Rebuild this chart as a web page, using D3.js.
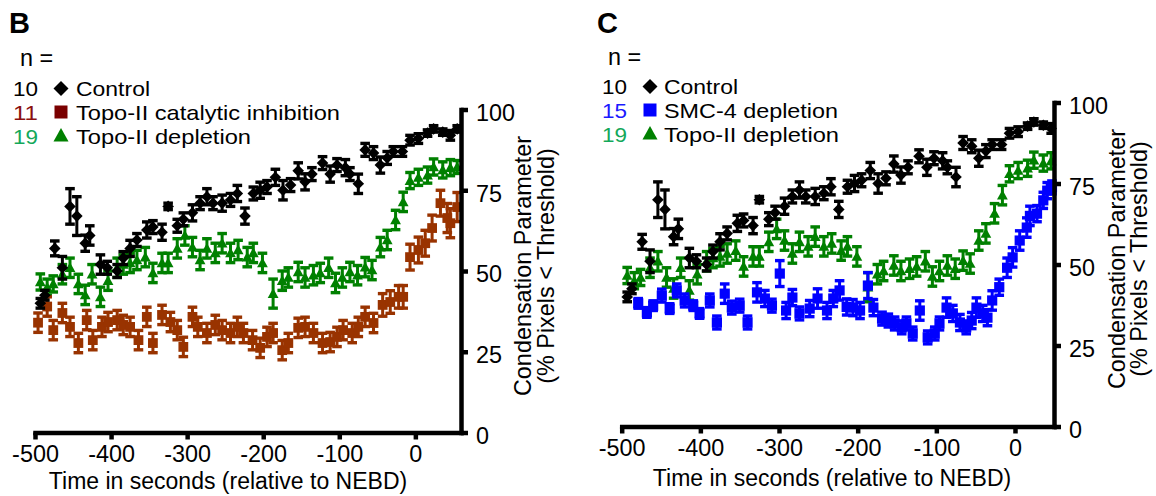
<!DOCTYPE html>
<html><head><meta charset="utf-8">
<script src="https://cdn.jsdelivr.net/npm/d3@7"></script>
<style>
body{margin:0;background:#fff}
svg{display:block}
text{font-family:"Liberation Sans",Arial,Helvetica,sans-serif;fill:#000}
</style>
</head><body>
<svg id="c" width="1156" height="496"></svg>
<script>
// ---------- DATA ----------
const xTicks = [-500, -400, -300, -200, -100, 0];
const yTicks = [0, 25, 50, 75, 100];

const controlTimes = [-493,-487,-474,-464,-454,-445,-434,-428,-414,-405,-392,-384,-375,-366,-353,-345,-333,-325,-313,-305,-293,-283,-274,-266,-254,-243,-234,-224,-213,-204,-195,-184,-174,-164,-154,-145,-136,-122,-112,-103,-92,-86,-75,-66,-55,-46,-37,-29,-17,-7,4,16,24,36,46,55];
const controlValues = [40,42.5,57,51,70,67,58.6,61,52,51,50,54,57,59.6,62.7,63.6,62,70,64,66,68,71,73,71,71,72,74,67,74,75,76,79,75,76.6,81,77.6,80,83.4,80,82.8,82,80,77,87.5,86.5,82.8,85,87,87,90.5,91,92.7,94,93,92,94];
const controlErr = [1.5,1.5,2.3,3.5,5.5,6,2.5,3,3,2,2,2,2.5,2,2.5,2,2.5,1,2,2,2.5,2,2.5,2,2.5,2,2.5,2.5,2,2.5,2,2.5,3,2,2.5,2.5,2,2,2.5,2,2.5,2,3,2,2,2.5,2,1.5,1.5,1.5,1.5,1,1,1,1.5,1];

const topoDepTimes = [-493,-484,-476,-464,-454,-443,-434,-425,-414,-404,-392,-384,-375,-366,-355,-345,-333,-325,-313,-303,-293,-283,-274,-263,-254,-243,-233,-221,-213,-201,-187,-175,-167,-154,-145,-134,-125,-114,-105,-96,-86,-76,-66,-57,-46,-37,-26,-16,-7,4,16,24,36,46,55];
const topoDepValues = [46.6,45,46,49,51,46,42.6,49,42,47,51,52,52.5,53.4,54.3,49.4,52.5,52.5,57,61,57.4,53.4,57,55.6,58.6,55.6,56.5,54.3,55.6,52.5,43,47,48,49.7,48,48.7,49.4,51,46.3,48,49.7,48.7,51.2,50.3,57.4,59.6,65.8,71.4,78,79,79.7,82.2,81.3,82,82.2];
const topoDepErr = [2.5,2.5,2.5,3,3,3,3,3,3,3,3,3,3,3,3,3,3,3,3,3,3,3,3,3,3,3,3,3,3,3,4.5,3,3,3,3,3,3,3,3,3,3,3,3,3,3,3,3,3,2.5,2.5,2.5,2.5,2.5,2.5,2];

const topoCatTimes = [-496,-484,-476,-464,-454,-443,-432,-424,-412,-404,-392,-384,-375,-364,-353,-345,-333,-322,-313,-305,-293,-286,-274,-263,-254,-243,-234,-226,-214,-204,-195,-187,-175,-167,-154,-145,-134,-122,-112,-103,-95,-83,-75,-66,-55,-43,-33,-22,-16,-7,4,13,22,33,42,46,55];
const topoCatValues = [34,39,31.7,37,32.7,27.7,34.8,28.6,32.7,34.2,34.8,33.3,32.7,28.6,35.8,27.7,36.4,34.2,31.7,26.5,35.8,32.7,30.8,33.3,31.7,30.8,32.7,30.8,28.6,26.2,29.6,30.8,25.5,27.7,32.4,32.7,30.8,27.7,28,29.6,31.7,30.8,32.7,35.8,33.9,39.5,40.4,42,42,54.3,56.5,58.6,63.3,71,66.4,64.8,69.8];
const topoCatErr = [3,3,3,3,3,3,3,3,3,3,3,3,3,3,3,3,3,3,3,3,3,3,3,3,3,3,3,3,3,3,3,3,3,3,3,3,3,3,3,3,3,3,3,3,3,3.5,3.5,3.5,3.5,4,4,4,4,4,4.5,4.5,4.5];

const smcTimes = [-479,-468,-460,-449,-439,-430,-420,-409,-401,-388,-379,-369,-360,-350,-340,-328,-318,-309,-299,-291,-283,-274,-261,-251,-239,-231,-223,-214,-206,-197,-187,-180,-169,-161,-153,-144,-138,-130,-121,-111,-102,-96,-87,-79,-70,-62,-55,-49,-41,-35,-29,-20,-10,-3,6,15,19,28,36,41,47];
const smcValues = [38,35.2,37.3,40.4,36.4,42,38.9,37.3,34.9,38.9,32.1,41,36.7,37.3,32.1,41.4,39.5,37.3,47.2,35.8,39.8,34.9,36.4,39.5,35.8,39.5,42,36.9,36.7,35.8,43.5,36.7,33.3,32.7,31.8,30.6,31.8,28.7,35.8,27.5,28.7,31.8,36.7,34.9,32.1,30.6,32.7,36.7,34.9,33.6,38.9,43,49,52.2,57.4,61.4,65,65.7,69.8,72.8,73.8];
const smcErr = [1.5,1.5,1.5,2,1.5,2,2,1.5,1.5,2,2,3,2,2,2,3,2.5,2,4,2.5,2.5,2,2.5,3,2.5,2.5,3,2.5,2.5,2.5,4,2.5,2,2,2,2,2,2,3,2,2,2,3,2.5,2.5,2,2.5,3,2.5,2.5,3,2.5,3,3,3,3,3,2.5,2.5,2.5,2];

// ---------- DRAW ----------
const svg = d3.select("#c");
const FS = 23.4;
const LFS = 21;

function markerPath(shape, s){
  if(shape === "diamond") return `M0,${-s}L${s},0L0,${s}L${-s},0Z`;
  if(shape === "square") return `M${-s},${-s}H${s}V${s}H${-s}Z`;
  return `M0,${-s}L${s},${s*0.8}L${-s},${s*0.8}Z`;
}

const S = {
  control: {t: controlTimes, v: controlValues, e: controlErr, color: "#000000", shape: "diamond", size: 5.8},
  topoCat: {t: topoCatTimes, v: topoCatValues, e: topoCatErr, color: "#993300", shape: "square", size: 4.9},
  topoDep: {t: topoDepTimes, v: topoDepValues, e: topoDepErr, color: "#008000", shape: "triangle", size: 5.4},
  smc:     {t: smcTimes, v: smcValues, e: smcErr, color: "#0000ff", shape: "square", size: 5.1}
};

const panels = [
  {letter: "B", lx: 9, nx: 20, numX: 13, mkX: 61, labX: 76, rowY: [96.4, 120, 143.6], nY: 66,
   xr: [35, 461], xd: [-500, 60], yr: [432.5, 109.5],
   draw: ["topoDep", "topoCat", "control"],
   legend: [
     {n: "10", nc: "#000000", mc: "#000000", shape: "diamond", label: "Control", w: 74},
     {n: "11", nc: "#8b1010", mc: "#7a0000", shape: "square", label: "Topo-II catalytic inhibition", w: 264},
     {n: "19", nc: "#14a85a", mc: "#008000", shape: "triangle", label: "Topo-II depletion", w: 175}],
   xTitleX: 228, xTitleY: 488.5, yT1: 531, yT2: 554, yTc: 266},
  {letter: "C", lx: 597, nx: 608, numX: 602, mkX: 650, labX: 664, rowY: [94.4, 118, 141.6], nY: 65,
   xr: [621.7, 1054], xd: [-500, 49.6], yr: [426.5, 102.5],
   draw: ["topoDep", "smc", "control"],
   legend: [
     {n: "10", nc: "#000000", mc: "#000000", shape: "diamond", label: "Control", w: 74},
     {n: "15", nc: "#1a1aff", mc: "#0000ff", shape: "square", label: "SMC-4 depletion", w: 174},
     {n: "19", nc: "#14a85a", mc: "#008000", shape: "triangle", label: "Topo-II depletion", w: 175}],
   xTitleX: 832, xTitleY: 485.5, yT1: 1125, yT2: 1147, yTc: 259}
];

panels.forEach(p => {
  const g = svg.append("g");
  const x = d3.scaleLinear().domain(p.xd).range(p.xr);
  const y = d3.scaleLinear().domain([0, 100]).range(p.yr);

  // data
  p.draw.forEach(key => {
    const s = S[key];
    const pts = s.t.map((t, i) => ({t, v: s.v[i], e: s.e[i]})).filter(d => d.t <= p.xd[1] - 2);
    const sg = g.append("g");
    const pg = sg.selectAll("g").data(pts).join("g")
      .attr("transform", d => `translate(${x(d.t)},0)`);
    pg.append("line").attr("x1", 0).attr("x2", 0)
      .attr("y1", d => y(d.v - d.e)).attr("y2", d => y(d.v + d.e))
      .attr("stroke", s.color).attr("stroke-width", 3);
    pg.append("line").attr("x1", -4.8).attr("x2", 4.8)
      .attr("y1", d => y(d.v + d.e)).attr("y2", d => y(d.v + d.e))
      .attr("stroke", s.color).attr("stroke-width", 3.4);
    pg.append("line").attr("x1", -4.8).attr("x2", 4.8)
      .attr("y1", d => y(d.v - d.e)).attr("y2", d => y(d.v - d.e))
      .attr("stroke", s.color).attr("stroke-width", 3.4);
    pg.append("path").attr("d", markerPath(s.shape, s.size))
      .attr("transform", d => `translate(0,${y(d.v)})`)
      .attr("fill", s.color);
  });

  // axes
  const xa = g.append("g").attr("transform", `translate(0,${p.yr[0]})`)
    .call(d3.axisBottom(x).tickValues(xTicks).tickSize(7).tickSizeOuter(0).tickPadding(6).tickFormat(d3.format("d")));
  const ya = g.append("g").attr("transform", `translate(${p.xr[1]},0)`)
    .call(d3.axisRight(y).tickValues(yTicks).tickSize(7).tickSizeOuter(0).tickPadding(8));
  [xa, ya].forEach(a => {
    a.select(".domain").attr("stroke", "#000").attr("stroke-width", 4.5).attr("stroke-linecap", "square");
    a.selectAll(".tick line").attr("stroke", "#000").attr("stroke-width", 4.5);
    a.selectAll(".tick text").attr("font-size", FS).attr("font-family", '"Liberation Sans",Arial,sans-serif').attr("fill", "#000");
  });
  ya.selectAll(".tick text").attr("dy", "0.46em");
  xa.selectAll(".tick text").text(d => d3.format("d")(d).replace("−", "-"));

  g.append("text").attr("x", p.xTitleX).attr("y", p.xTitleY).attr("text-anchor", "middle")
    .attr("font-size", 23).text("Time in seconds (relative to NEBD)");
  g.append("text").attr("transform", `translate(${p.yT1},${p.yTc}) rotate(-90)`).attr("text-anchor", "middle")
    .attr("font-size", FS).text("Condensation Parameter");
  g.append("text").attr("transform", `translate(${p.yT2},${p.yTc}) rotate(-90)`).attr("text-anchor", "middle")
    .attr("font-size", FS).text("(% Pixels < Threshold)");

  // legend
  g.append("text").attr("x", p.lx).attr("y", 33).attr("font-size", 29).attr("font-weight", "bold").text(p.letter);
  g.append("text").attr("x", p.nx).attr("y", p.nY).attr("font-size", FS).text("n =");
  p.legend.forEach((L, i) => {
    const by = p.rowY[i];
    g.append("text").attr("x", p.numX).attr("y", by).attr("font-size", LFS)
      .attr("textLength", 25).attr("lengthAdjust", "spacingAndGlyphs")
      .style("fill", L.nc).text(L.n);
    g.append("path").attr("d", markerPath(L.shape, L.shape === "diamond" ? 7.5 : (L.shape === "square" ? 6.5 : 7.5)))
      .attr("transform", `translate(${p.mkX},${by - 8})`).attr("fill", L.mc);
    g.append("text").attr("x", p.labX).attr("y", by).attr("font-size", LFS)
      .attr("textLength", L.w).attr("lengthAdjust", "spacingAndGlyphs").text(L.label);
  });
});
</script>
</body></html>
